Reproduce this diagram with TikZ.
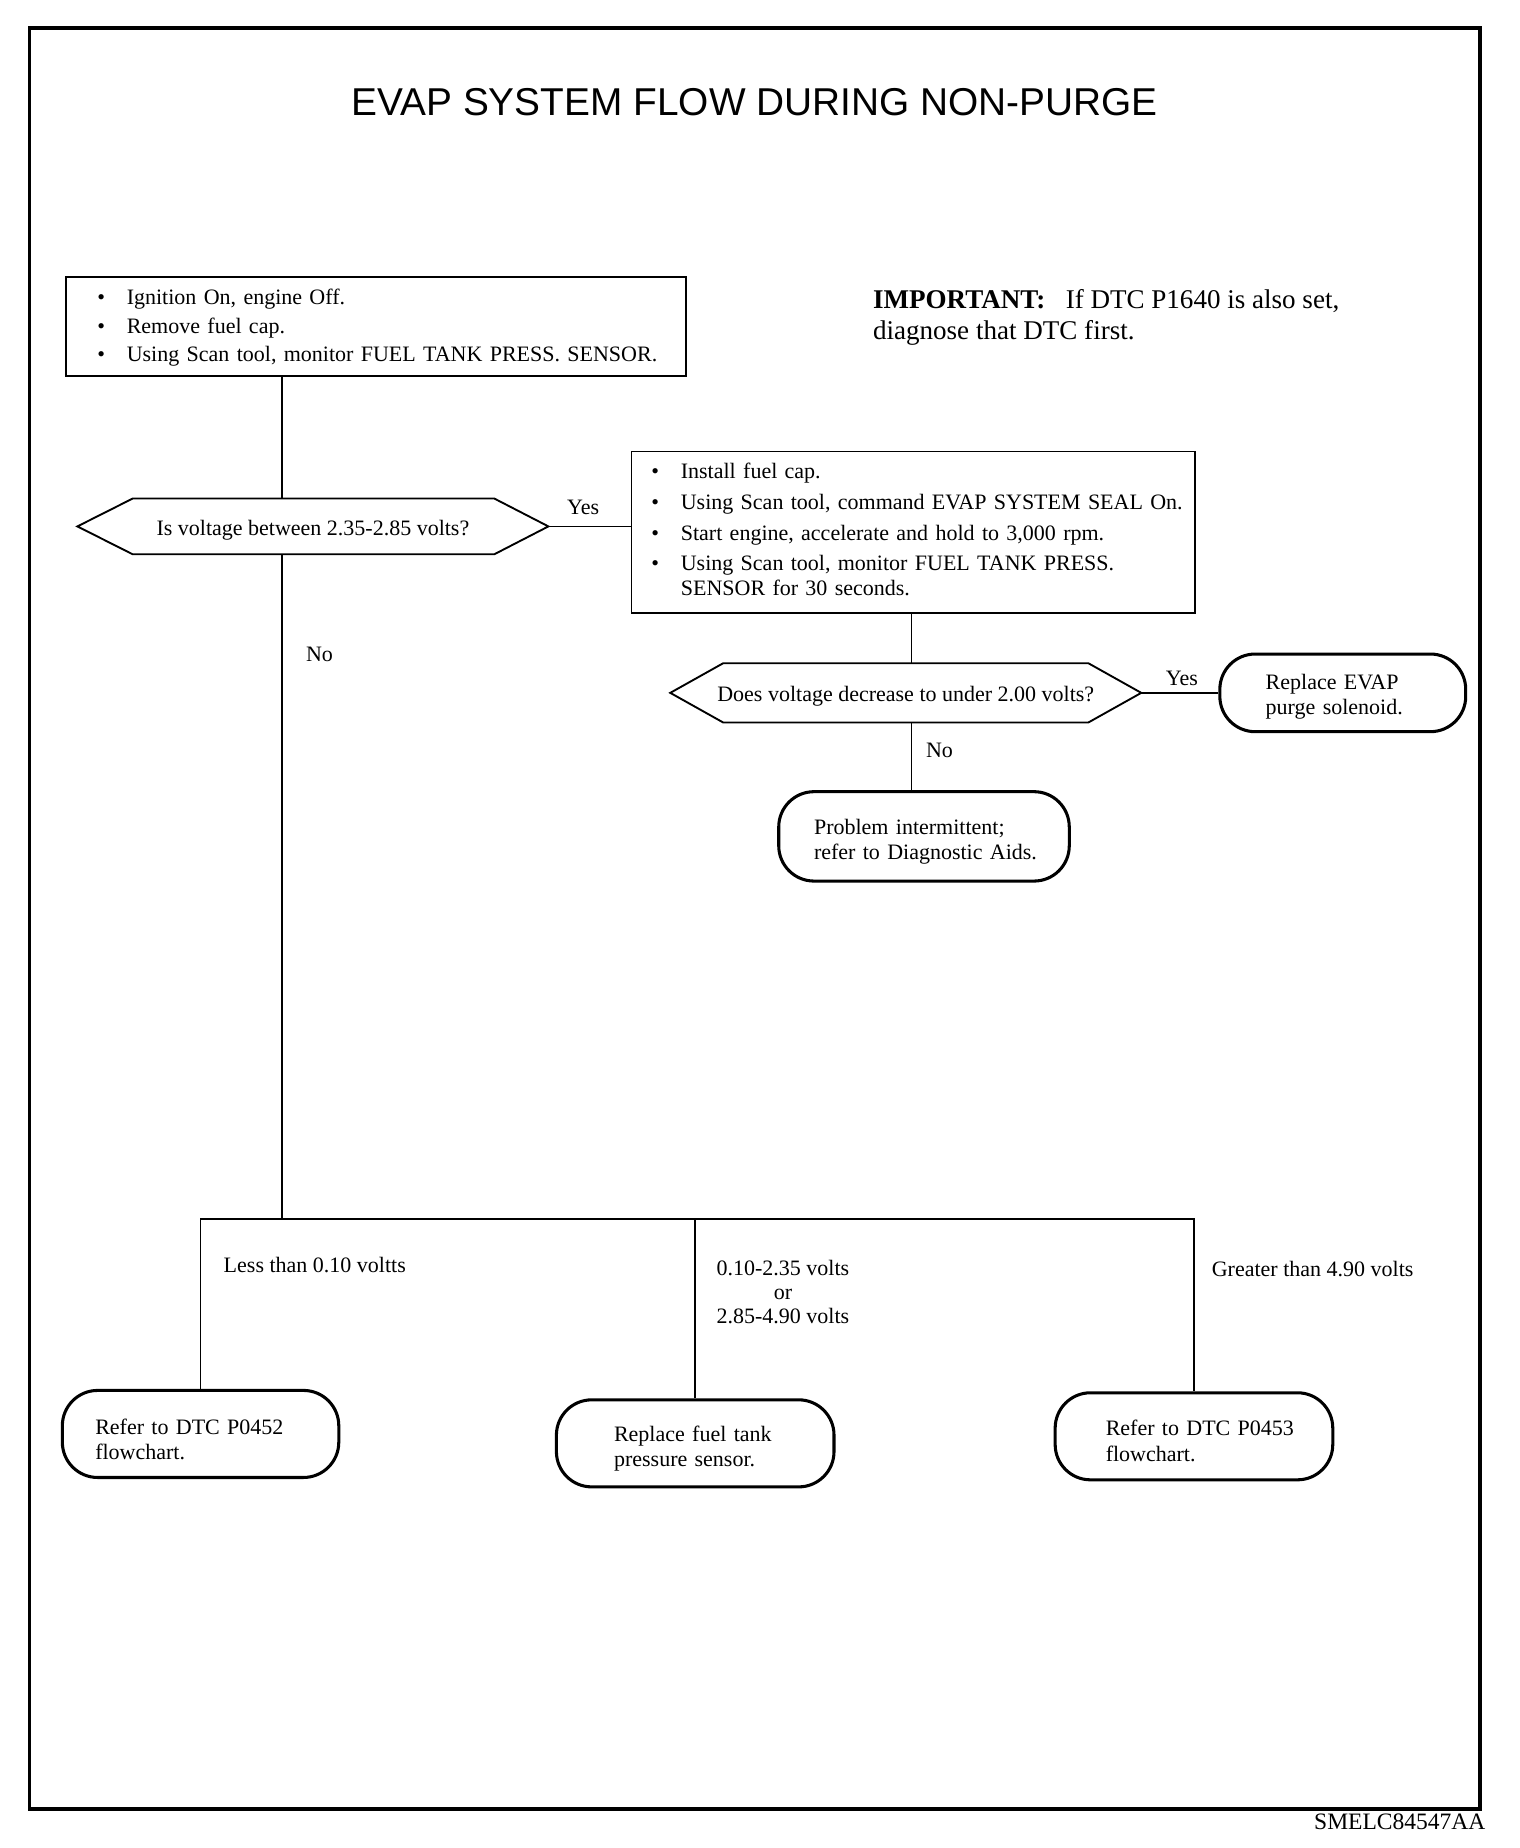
\documentclass[tikz,border=0pt]{standalone}
\usepackage{fontspec}
\setmainfont{Liberation Serif}
\newfontfamily\arialfont{Liberation Sans}
\newcommand{\lowerby}[2]{\raisebox{-#1}[\height][\depth]{#2}}
\begin{document}
\begin{tikzpicture}[x=1pt,y=-1pt,
  every node/.style={font=\fontsize{18.7}{21.5}\selectfont},
  box/.style={draw, line width=1.6pt, inner ysep=0pt, align=left},
  term/.style={draw, line width=2.6pt, rounded corners=30pt, inner ysep=0pt, align=left},
  hexa/.style={draw=none, inner sep=0pt},
  hexline/.style={line width=1.6pt, line join=miter},
  conn/.style={line width=1.4pt},
  lbl/.style={inner sep=0pt}
]
\useasboundingbox (0,0) rectangle (1292,1571);
\draw[line width=3pt] (25,24) rectangle (1258,1538);

\node[inner sep=0pt, font=\arialfont\fontsize{33}{38}\selectfont] (title) at (641.5,87) {EVAP SYSTEM FLOW DURING NON-PURGE};

\node[lbl, anchor=west, align=left, font=\fontsize{23}{26.5}\selectfont] (imp) at (742,270)
  {\textbf{IMPORTANT:}\hspace{0.75em}If DTC P1640 is also set,\\diagnose that DTC first.};

% box 1
\node[box, anchor=north west, minimum height=84pt, inner xsep=27pt, text width=473pt] (b1) at (55,235)
  {\noindent\lowerby{1pt}{\begin{tabular}{@{}p{25pt}@{}l@{}}
  \textbullet & Ignition On, engine Off.\\[3.5pt]
  \textbullet & Remove fuel cap.\\[2.5pt]
  \textbullet & Using Scan tool, monitor FUEL TANK PRESS. SENSOR.
  \end{tabular}}};

% decision 1
\node[hexa, minimum width=400pt, minimum height=47pt] (d1) at (266,447.5) {\lowerby{3.5pt}{Is voltage between 2.35-2.85 volts?}};
\draw[hexline] ([xshift=47pt]d1.north west) -- ([xshift=-46pt]d1.north east) -- (d1.east)
  -- ([xshift=-46pt]d1.south east) -- ([xshift=47pt]d1.south west) -- (d1.west) -- cycle;

% box 2
\node[box, anchor=north west, minimum height=137pt, inner xsep=17pt, text width=445pt] (b2) at (536,383)
  {\noindent\begin{tabular}{@{}p{25pt}@{}l@{}}
  \textbullet & Install fuel cap.\\[4.5pt]
  \textbullet & Using Scan tool, command EVAP SYSTEM SEAL On.\\[4.5pt]
  \textbullet & Start engine, accelerate and hold to 3,000 rpm.\\[4pt]
  \textbullet & Using Scan tool, monitor FUEL TANK PRESS.\\
   & SENSOR for 30 seconds.
  \end{tabular}};

% decision 2
\node[hexa, minimum width=400pt, minimum height=50pt] (d2) at (770,589) {\lowerby{2.5pt}{Does voltage decrease to under 2.00 volts?}};
\draw[hexline] ([xshift=45pt]d2.north west) -- ([xshift=-45pt]d2.north east) -- (d2.east)
  -- ([xshift=-45pt]d2.south east) -- ([xshift=45pt]d2.south west) -- (d2.west) -- cycle;

% terminals
\node[term, minimum height=66pt, inner xsep=39pt, text width=131pt] (te) at (1141.5,589)
  {\noindent\lowerby{3.5pt}{\begin{tabular}{@{}l@{}}Replace EVAP\\purge solenoid.\end{tabular}}};
\node[term, minimum height=76pt, inner xsep=30pt, text width=187pt] (tp) at (785.5,711)
  {\noindent\lowerby{4.5pt}{\begin{tabular}{@{}l@{}}Problem intermittent;\\refer to Diagnostic Aids.\end{tabular}}};
\node[term, minimum height=74pt, inner xsep=28pt, text width=179pt] (t1) at (170.5,1219)
  {\noindent\lowerby{6.5pt}{\begin{tabular}{@{}l@{}}Refer to DTC P0452\\flowchart.\end{tabular}}};
\node[term, minimum height=74pt, inner xsep=49pt, text width=138pt] (t2) at (591,1227)
  {\noindent\lowerby{4.5pt}{\begin{tabular}{@{}l@{}}Replace fuel tank\\pressure sensor.\end{tabular}}};
\node[term, minimum height=74pt, inner xsep=43pt, text width=150pt] (t3) at (1015,1221)
  {\noindent\lowerby{6pt}{\begin{tabular}{@{}l@{}}Refer to DTC P0453\\flowchart.\end{tabular}}};

% connectors
\coordinate (v1) at (240,0);
\coordinate (v2) at (775,0);
\coordinate (split) at (240,1036);
\draw[conn] (b1.south -| v1) -- (d1.north -| v1);
\draw[conn] (d1.south -| v1) -- (split);
\draw[conn] (d1.east) -- (d1.east -| b2.west);
\draw[conn] (b2.south -| v2) -- (d2.north -| v2);
\draw[conn] (d2.east) -- (te.west);
\draw[conn] (d2.south -| v2) -- (tp.north -| v2);
\draw[conn] (t1.north) |- (split);
\draw[conn] (split) -| (t3.north);
\draw[conn] (t2.north) -- (t2.north |- split);

% labels
\node[lbl, anchor=west] (yes1) at (482,431) {Yes};
\node[lbl, anchor=west] (no1) at (260,556) {No};
\node[lbl, anchor=west] (yes2) at (991,577) {Yes};
\node[lbl, anchor=west] (no2) at (787,638) {No};
\node[lbl, anchor=west] (l1) at (190,1075) {Less than 0.10 voltts};
\node[lbl, anchor=north west, align=center, font=\fontsize{18.7}{20.5}\selectfont] (l2) at (609,1071)
  {0.10-2.35 volts\\or\\2.85-4.90 volts};
\node[lbl, anchor=west] (l3) at (1030,1079) {Greater than 4.90 volts};

\node[lbl, anchor=east, font=\fontsize{20}{24}\selectfont] (code) at (1263,1549) {SMELC84547AA};
\end{tikzpicture}
\end{document}
